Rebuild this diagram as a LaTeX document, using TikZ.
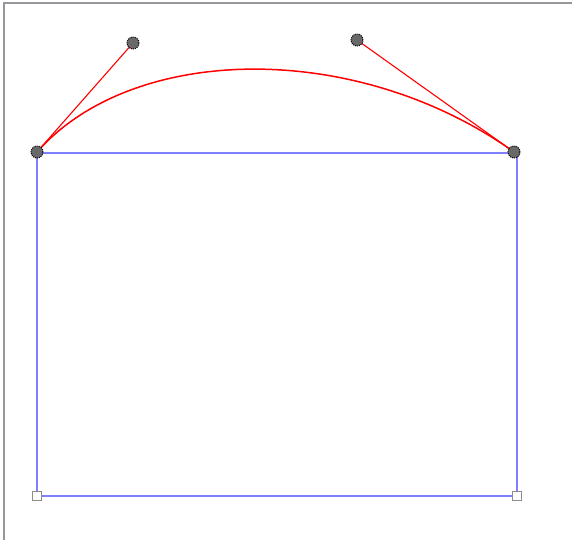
\documentclass[tikz,border=0pt]{standalone}
\begin{document}
\begin{tikzpicture}[x=1pt,y=-1pt,
  frame/.style={draw={rgb,255:red,150;green,150;blue,155},line width=2.2pt},
  edgeline/.style={draw={rgb,255:red,128;green,128;blue,255},line width=2pt},
  curveline/.style={draw=red,line width=1.5pt},
  handle/.style={draw=red,line width=1.1pt},
  ctrl/.style={circle,minimum size=12pt,inner sep=0pt,fill={rgb,255:red,105;green,105;blue,105},draw=black,densely dotted,line width=1pt},
  corner/.style={rectangle,minimum size=9pt,inner sep=0pt,fill=white,draw={rgb,255:red,140;green,140;blue,140},line width=1.5pt}]
\useasboundingbox (0,0) rectangle (572,540);
\fill[white] (0,0) rectangle (572,540);
\coordinate (fb) at (4,540);
\coordinate (ft) at (4,3);
\coordinate (fr) at (572,3);
\draw[frame] (fb) -- (ft) -- (fr);
% rectangle corners
\coordinate (tl) at (37,153);
\coordinate (tr) at (517,153);
\coordinate (brc) at (517,496);
\coordinate (blc) at (37,496);
\draw[edgeline] (tl) -- (tr) -- (brc) -- (blc) -- cycle;
% curve
\coordinate (p0) at (37,152);
\coordinate (p1) at (133,43);
\coordinate (p2) at (357,40);
\coordinate (p3) at (514,152);
\draw[handle] (p0) -- (p1);
\draw[handle] (p3) -- (p2);
\draw[curveline] (p0) .. controls (p1) and (p2) .. (p3);
\node[corner] (bl) at (blc) {};
\node[corner] (br) at (brc) {};
\node[ctrl] (c0) at (p0) {};
\node[ctrl] (c1) at (p1) {};
\node[ctrl] (c2) at (p2) {};
\node[ctrl] (c3) at (p3) {};
\end{tikzpicture}
\end{document}
